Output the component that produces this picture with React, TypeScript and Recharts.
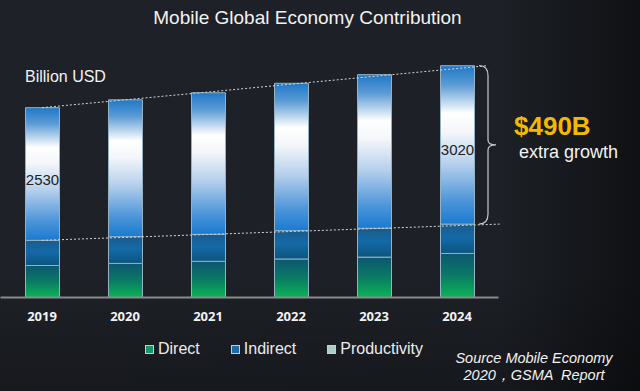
import React from 'react';
import { BarChart, Bar, XAxis, YAxis, Legend, ReferenceLine, LabelList } from 'recharts';

// Billion USD
const years = [2019, 2020, 2021, 2022, 2023, 2024];
const direct = [610, 650, 690, 735, 770, 840];
const indirect = [480, 510, 515, 540, 550, 560];
const productivity = [2530, 2610, 2700, 2810, 2930, 3020];
const labeledYears = [2019, 2024];
const legendIcons = ['#17966a', '#1c6aa6', '#a9cbc9'];

const data = years.map((year, i) => ({
  year,
  direct: direct[i],
  indirect: indirect[i],
  productivity: productivity[i],
}));

const last = years.length - 1;
const base = (i: number) => direct[i] + indirect[i];
const total = (i: number) => base(i) + productivity[i];

const FONT = '"Liberation Sans", Arial, sans-serif';

const Brace = (props: any) => {
  const { x1, y1, y2 } = props;
  if (x1 == null) return null;
  const top = Math.min(y1, y2);
  const bot = Math.max(y1, y2);
  const x = x1;
  const mid = (top + bot) / 2;
  const d = `M${x},${top} Q${x + 9},${top} ${x + 9},${top + 10} L${x + 9},${mid - 5} Q${x + 9},${mid} ${x + 17},${mid} Q${x + 9},${mid} ${x + 9},${mid + 5} L${x + 9},${bot - 10} Q${x + 9},${bot} ${x},${bot}`;
  return <path d={d} fill="none" stroke="#c8c8c8" strokeWidth={1.2} />;
};

const ProdLabel = (props: any) => {
  const { x, y, width, height, index, value } = props;
  if (!labeledYears.includes(years[index])) return null;
  return (
    <text x={x + width / 2} y={y + height / 2 + 10.5} textAnchor="middle" fill="#222" fontSize={15} fontFamily={FONT}>
      {value}
    </text>
  );
};

const renderLegend = (props: any) => {
  const { payload } = props;
  return (
    <div style={{ display: 'flex', fontFamily: FONT, fontSize: 16, lineHeight: '16px', color: '#ececec' }}>
      {(payload || []).map((entry: any, i: number) => (
        <div key={entry.value} style={{ display: 'flex', alignItems: 'center', marginRight: 31 }}>
          <span
            style={{
              width: 7,
              height: 7,
              background: legendIcons[i],
              border: '1px solid #b9d3d3',
              marginRight: 4,
              marginTop: 2,
            }}
          />
          <span>{entry.value}</span>
        </div>
      ))}
    </div>
  );
};

export default function App() {
  return (
    <div
      style={{
        position: 'fixed',
        left: 0,
        top: 0,
        width: 640,
        height: 391,
        background:
          'linear-gradient(to bottom, rgba(0,0,0,0) 70%, rgba(0,0,0,0.25) 100%), linear-gradient(to right, #1e2127 0%, #1d2026 78%, #0f1114 100%)',
      }}
    >
      <BarChart
        width={640}
        height={391}
        data={data}
        margin={{ top: 35.3, right: 141.5, left: 0.5, bottom: 63.5 }}
      >
        <defs>
          <linearGradient id="gProd" x1="0" y1="0" x2="0" y2="1">
            <stop offset="0%" stopColor="#1f78c8" />
            <stop offset="12%" stopColor="#5b9bd5" />
            <stop offset="30%" stopColor="#ffffff" />
            <stop offset="42%" stopColor="#f4f6fa" />
            <stop offset="62%" stopColor="#b6d0ec" />
            <stop offset="86%" stopColor="#4a94d8" />
            <stop offset="100%" stopColor="#1a7ad0" />
          </linearGradient>
          <linearGradient id="gInd" x1="0" y1="0" x2="0" y2="1">
            <stop offset="0%" stopColor="#1a5a8c" />
            <stop offset="45%" stopColor="#146aa6" />
            <stop offset="100%" stopColor="#0b5480" />
          </linearGradient>
          <linearGradient id="gDir" x1="0" y1="0" x2="0" y2="1">
            <stop offset="0%" stopColor="#0c5670" />
            <stop offset="50%" stopColor="#0a7a64" />
            <stop offset="100%" stopColor="#0bb455" />
          </linearGradient>
        </defs>
        <XAxis
          dataKey="year"
          type="number"
          domain={[2018.5, 2024.5]}
          ticks={years}
          height={30}
          tickLine={false}
          tickMargin={8}
          axisLine={{ stroke: '#8a8a8a', strokeWidth: 2 }}
          tick={{ fill: '#f2f2f2', fontSize: 13, fontWeight: 'bold', fontFamily: '"Open Sans", sans-serif' }}
        />
        <YAxis hide domain={[0, 5000]} allowDataOverflow />
        <Legend
          verticalAlign="middle"
          layout="horizontal"
          content={renderLegend}
          wrapperStyle={{ top: 340.5, left: 145, width: 'auto', bottom: 'auto' }}
        />
        <Bar dataKey="direct" name="Direct" stackId="a" barSize={34} fill="url(#gDir)" stroke="#93b3c4" strokeWidth={1} isAnimationActive={false} />
        <Bar dataKey="indirect" name="Indirect" stackId="a" barSize={34} fill="url(#gInd)" stroke="#93b3c4" strokeWidth={1} isAnimationActive={false} />
        <Bar dataKey="productivity" name="Productivity" stackId="a" barSize={34} fill="url(#gProd)" stroke="#93b3c4" strokeWidth={1} isAnimationActive={false}>
          <LabelList dataKey="productivity" content={ProdLabel} />
        </Bar>
        <ReferenceLine
          segment={[{ x: years[0], y: total(0) }, { x: 2024.36, y: total(last) }]}
          stroke="#d4d4d4"
          strokeDasharray="2 2"
          ifOverflow="visible"
        />
        <ReferenceLine
          segment={[{ x: years[0], y: base(0) }, { x: 2024.52, y: base(last) }]}
          stroke="#d4d4d4"
          strokeDasharray="2 2"
          ifOverflow="visible"
        />
        <ReferenceLine
          segment={[{ x: 2024.265, y: total(last) }, { x: 2024.265, y: base(last) }]}
          ifOverflow="visible"
          shape={Brace}
        />
      </BarChart>
      <svg width={640} height={391} style={{ position: 'absolute', left: 0, top: 0, pointerEvents: 'none' }}>
        <text x={307.5} y={24} textAnchor="middle" fill="#f2f2f2" fontSize={19} fontFamily={FONT}>
          Mobile Global Economy Contribution
        </text>
        <text x={25} y={82} fill="#f2f2f2" fontSize={16} fontFamily={FONT}>
          Billion USD
        </text>
        <text x={514} y={135} fill="#f5b800" fontSize={26} fontWeight="bold" fontFamily={FONT}>
          $490B
        </text>
        <text x={519} y={158} fill="#f2f2f2" fontSize={18} fontFamily={FONT}>
          extra growth
        </text>
        <text x={534} y={363} textAnchor="middle" fill="#f2f2f2" fontSize={14.5} fontStyle="italic" fontFamily={FONT}>
          Source Mobile Economy
        </text>
        <text x={534} y={380} textAnchor="middle" fill="#f2f2f2" fontSize={14.5} fontStyle="italic" fontFamily={FONT} style={{ whiteSpace: 'pre' }}>
          2020，GSMA  Report
        </text>
      </svg>
    </div>
  );
}
